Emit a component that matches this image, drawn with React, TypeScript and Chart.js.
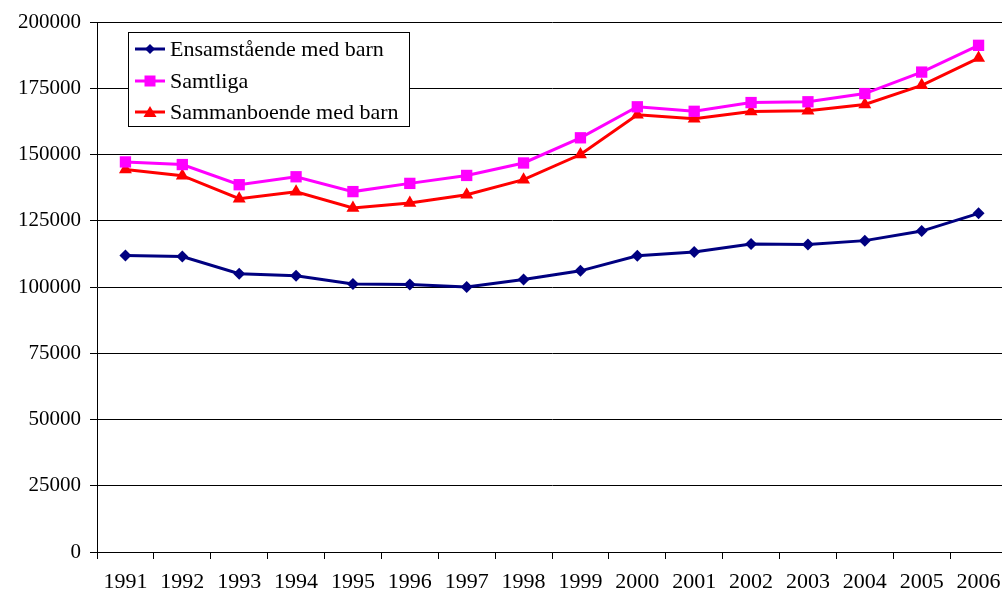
import React, { useEffect, useRef } from "react";
import { Chart, registerables } from "chart.js";

Chart.register(...registerables);

const years = ["1991","1992","1993","1994","1995","1996","1997","1998","1999","2000","2001","2002","2003","2004","2005","2006"];
const ensamstaende = [111900,111500,105000,104200,101100,100900,100000,102800,106100,111800,113200,116200,116000,117500,121100,127800];
const samtliga = [147200,146200,138600,141600,136000,139100,142100,146800,156300,168000,166300,169600,169900,173000,181100,191200];
const sammanboende = [144300,142000,133300,135900,129800,131700,134800,140500,150000,165000,163500,166200,166500,168900,176100,186400];
const yTicks = [0,25000,50000,75000,100000,125000,150000,175000,200000];

const FONT = "'Liberation Serif', 'Times New Roman', serif";

const legendPlugin = {
  id: "boxLegend",
  afterDraw(chart: any) {
    const ctx = chart.ctx;
    const x = 128, y = 32, w = 281, h = 94;
    ctx.save();
    ctx.fillStyle = "#fff";
    ctx.fillRect(x, y, w, h);
    ctx.strokeStyle = "#000";
    ctx.lineWidth = 1;
    ctx.strokeRect(x + 0.5, y + 0.5, w, h);
    const rows = [49, 81, 112];
    chart.data.datasets.forEach((ds: any, i: number) => {
      const cy = rows[i];
      ctx.strokeStyle = ds.borderColor;
      ctx.lineWidth = 3;
      ctx.beginPath();
      ctx.moveTo(135, cy);
      ctx.lineTo(165, cy);
      ctx.stroke();
      ctx.fillStyle = ds.backgroundColor;
      ctx.beginPath();
      const cx = 150;
      if (ds.pointStyle === "rectRot") {
        ctx.moveTo(cx, cy - 5); ctx.lineTo(cx + 5, cy); ctx.lineTo(cx, cy + 5); ctx.lineTo(cx - 5, cy);
      } else if (ds.pointStyle === "rect") {
        ctx.rect(cx - 5.5, cy - 5.5, 11, 11);
      } else {
        ctx.moveTo(cx, cy - 6); ctx.lineTo(cx + 6.5, cy + 5); ctx.lineTo(cx - 6.5, cy + 5);
      }
      ctx.closePath();
      ctx.fill();
      ctx.fillStyle = "#000";
      ctx.font = `22px ${FONT}`;
      ctx.textBaseline = "middle";
      ctx.textAlign = "left";
      ctx.fillText(ds.label, 170, cy + 1);
    });
    ctx.restore();
  },
};

export default function App() {
  const ref = useRef<HTMLCanvasElement>(null);
  useEffect(() => {
    document.body.style.margin = "0";
    const chart = new Chart(ref.current!, {
      type: "line",
      data: {
        labels: years,
        datasets: [
          { label: "Ensamstående med barn", data: ensamstaende, borderColor: "#000080", backgroundColor: "#000080", pointStyle: "rectRot", pointRadius: 6, pointHoverRadius: 6, borderWidth: 3, pointBorderWidth: 0 },
          { label: "Samtliga", data: samtliga, borderColor: "#FF00FF", backgroundColor: "#FF00FF", pointStyle: "rect", pointRadius: 8, pointHoverRadius: 8, borderWidth: 3, pointBorderWidth: 0 },
          { label: "Sammanboende med barn", data: sammanboende, borderColor: "#FF0000", backgroundColor: "#FF0000", pointStyle: "triangle", pointRadius: 7.5, pointHoverRadius: 7.5, borderWidth: 3, pointBorderWidth: 0 },
        ],
      },
      options: {
        animation: false,
        responsive: false,
        layout: { autoPadding: false, padding: { top: 22, right: 0, left: 0, bottom: 0 } },
        plugins: { legend: { display: false }, tooltip: { enabled: false } },
        elements: { line: { tension: 0 } },
        scales: {
          x: {
            offset: true,
            grid: { offset: true, drawOnChartArea: false, drawTicks: true, tickLength: 7, color: "#000" },
            border: { display: true, color: "#000", width: 1 },
            ticks: { color: "#000", font: { family: FONT, size: 22 }, padding: 10, maxRotation: 0, autoSkip: false },
            afterFit: (s: any) => { s.height = 42; s.paddingLeft = 0; s.paddingRight = 0; },
          },
          y: {
            min: 0,
            max: 200000,
            afterBuildTicks: (s: any) => { s.ticks = yTicks.map((v) => ({ value: v })); },
            grid: { color: "#000", lineWidth: 1, drawTicks: true, tickLength: 7 },
            border: { display: true, color: "#000", width: 1 },
            ticks: { color: "#000", font: { family: FONT, size: 21 }, padding: 9, callback: (v: any) => String(v) },
            afterFit: (s: any) => { s.width = 97; s.paddingTop = 0; s.paddingBottom = 0; },
          },
        },
      },
      plugins: [legendPlugin],
    });
    return () => chart.destroy();
  }, []);
  return (
    <div style={{ width: 1002, height: 594, overflow: "hidden" }}>
      <canvas ref={ref} width={1007} height={594} style={{ display: "block" }} />
    </div>
  );
}
